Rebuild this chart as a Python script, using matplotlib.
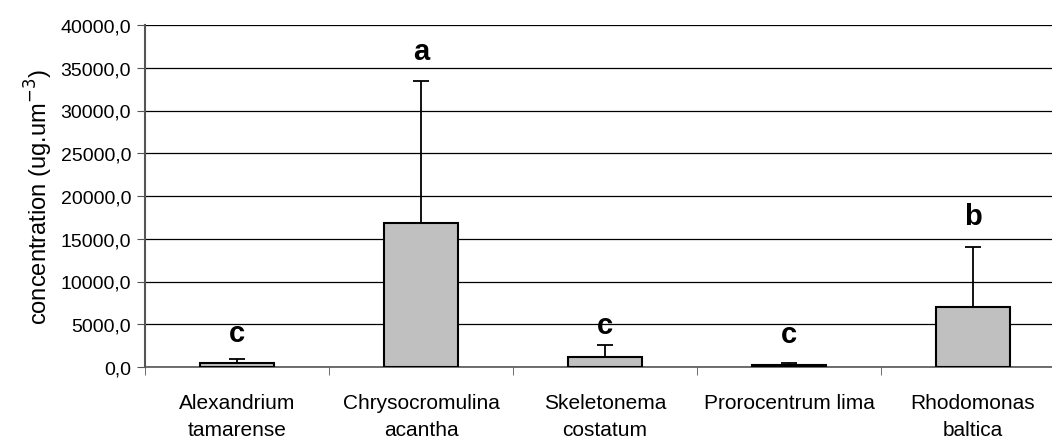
import numpy as np
import matplotlib.pyplot as plt
from matplotlib.ticker import FuncFormatter, FixedLocator

plt.rcParams['font.family'] = ['Liberation Sans', 'DejaVu Sans']

species = ['Alexandrium\ntamarense', 'Chrysocromulina\nacantha', 'Skeletonema\ncostatum',
           'Prorocentrum lima', 'Rhodomonas\nbaltica']
conc = [480, 16900, 1200, 230, 7000]
err = [480, 16500, 1400, 270, 7000]
letters = ['c', 'a', 'c', 'c', 'b']
letter_y = [4000, 37000, 4900, 3900, 17700]

fig = plt.figure(figsize=(10.52, 4.39), dpi=100)
ax = fig.add_axes([145/1052, 71/439, 920/1052, 342/439])

x = np.arange(len(species))
ax.bar(x, conc, width=0.405, color='#c0c0c0', edgecolor='black', linewidth=1.5, zorder=3)
ax.errorbar(x, conc, yerr=[np.zeros(len(err)), err], fmt='none', ecolor='black',
            elinewidth=1.3, capsize=5.5, capthick=1.3, zorder=4)
for xi, l, ly in zip(x, letters, letter_y):
    ax.text(xi, ly, l, ha='center', va='center', fontsize=21, fontweight='bold')

ax.set_xlim(-0.5, len(species) - 0.5)
ax.set_ylim(0, 40000)
ax.set_yticks(np.arange(0, 40001, 5000))
ax.yaxis.set_major_formatter(FuncFormatter(lambda v, p: f'{v:.1f}'.replace('.', ',')))
ax.grid(axis='y', color='black', linewidth=0.9, zorder=0)
ax.set_axisbelow(True)

ax.set_xticks(x)
ax.set_xticklabels(species, fontsize=15, linespacing=1.5)
ax.xaxis.set_minor_locator(FixedLocator(np.arange(-0.5, len(species), 1.0)))
ax.tick_params(axis='x', which='major', length=0, pad=19)
ax.tick_params(axis='x', which='minor', length=6, color='#555555', direction='out')
ax.tick_params(axis='y', length=6, color='#555555', labelsize=14, pad=4)

ax.set_ylabel('concentration (ug.um$^{\\mathrm{-3}}$)', fontsize=17, labelpad=4)

for s in ['top', 'right']:
    ax.spines[s].set_visible(False)
ax.spines['left'].set_color('#555555')
ax.spines['left'].set_linewidth(1.5)
ax.spines['bottom'].set_color('#555555')
ax.spines['bottom'].set_linewidth(1.2)

fig.savefig('out.png', dpi=100)
